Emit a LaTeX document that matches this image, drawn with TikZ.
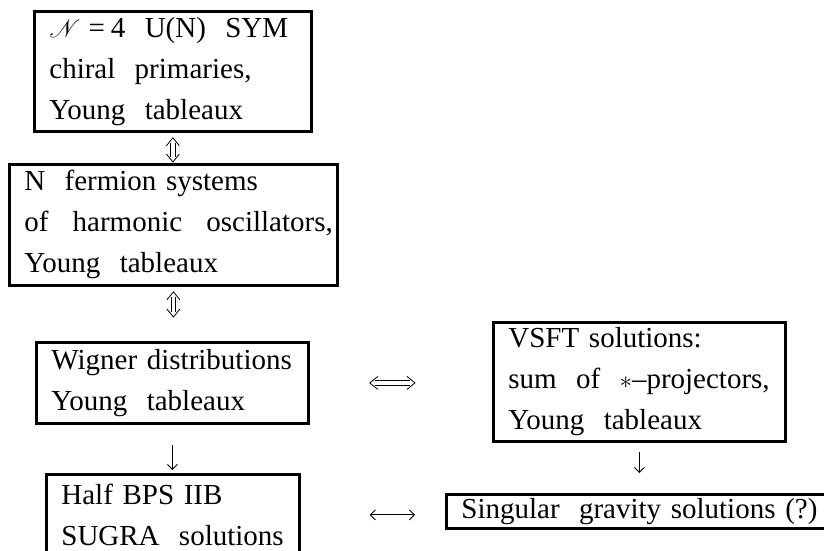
\documentclass[tikz,border=0pt]{standalone}
\usepackage{fontspec}
\usepackage{mathrsfs}
\setmainfont{Liberation Serif}
\usetikzlibrary{arrows.meta,calc}
\newcommand{\dblvert}[2]{%
  \draw[dshaft] ($(#1)+(-6.5,8)$) -- (#1) -- ($(#1)+(6.5,8)$);
  \draw[dshaft] ($(#2)+(-6.5,-8)$) -- (#2) -- ($(#2)+(6.5,-8)$);
  \draw[dshaft] ($(#1)+(-2.2,5)$) -- ($(#2)+(-2.2,-5)$);
  \draw[dshaft] ($(#1)+(2.2,5)$) -- ($(#2)+(2.2,-5)$);}
\newcommand{\dblhor}[2]{%
  \draw[dshaft] ($(#1)+(8,-6.5)$) -- (#1) -- ($(#1)+(8,6.5)$);
  \draw[dshaft] ($(#2)+(-8,-6.5)$) -- (#2) -- ($(#2)+(-8,6.5)$);
  \draw[dshaft] ($(#1)+(5,-2.2)$) -- ($(#2)+(-5,-2.2)$);
  \draw[dshaft] ($(#1)+(5,2.2)$) -- ($(#2)+(-5,2.2)$);}
\begin{document}
\begin{tikzpicture}[x=1pt,y=-1pt,
  box/.style={draw,line width=2.8pt,inner xsep=15pt,inner ysep=0pt,anchor=north west,
    align=left,font=\fontsize{29}{41}\selectfont},
  dshaft/.style={line width=0.8pt,line join=miter},
  sgl/.style={line width=0.9pt,-{Straight Barb[length=5pt,width=10pt]}},
  sglboth/.style={line width=0.9pt,{Straight Barb[length=5pt,width=10pt]}-{Straight Barb[length=5pt,width=10pt]}}]
\useasboundingbox (0,0) rectangle (824,550);
\node[box,text width=247pt,minimum height=120pt] (b1) at (33,10)
  {\mbox{$\mathscr{N}$\kern8pt=\kern6pt4~~U(N)~~SYM}\\\mbox{chiral~~primaries,}\\\mbox{Young~~tableaux}};
\node[box,text width=298pt,minimum height=121pt] (b2) at (8,163)
  {\mbox{N~~fermion~systems}\\\mbox{of~~\,harmonic~~\,oscillators,}\\\mbox{Young~~tableaux}};
\node[box,text width=242pt,minimum height=81pt] (b3) at (35,341)
  {\mbox{Wigner~distributions}\\\mbox{Young~~tableaux}};
\node[box,text width=262pt,minimum height=119pt] (b4) at (492,321)
  {\mbox{VSFT~solutions:}\\\mbox{sum~~of~~$*$--projectors,}\\\mbox{Young~~tableaux}};
\node[box,text width=223pt,minimum height=81pt] (b5) at (45,473)
  {\mbox{Half~BPS~IIB}\\\mbox{SUGRA~~solutions}};
\node[box,text width=359pt,minimum height=34pt] (b6) at (445,493)
  {\mbox{Singular~~gravity~solutions~(?)}};
\coordinate (a1t) at ($(b1.south)+(0,5)$);
\coordinate (a1b) at ($(b1.south |- b2.north)+(0,-1)$);
\coordinate (a2t) at ($(b2.south)+(0,5)$);
\coordinate (a2b) at ($(b2.south |- b3.north)+(0,-24)$);
\coordinate (h1l) at ($(b3.east)+(60,0)$);
\coordinate (h1r) at ($(b3.east -| b4.west)+(-77,0)$);
\dblvert{a1t}{a1b}
\dblvert{a2t}{a2b}
\dblhor{h1l}{h1r}
\draw[sgl,shorten <=20pt,shorten >=3pt] (b3.south) -- (b3.south |- b5.north);
\draw[sgl,shorten <=9pt,shorten >=20pt] (b4.south) -- (b4.south |- b6.north);
\draw[sglboth,shorten <=69pt,shorten >=30pt] (b5.east) -- (b5.east -| b6.west);
\end{tikzpicture}
\end{document}
